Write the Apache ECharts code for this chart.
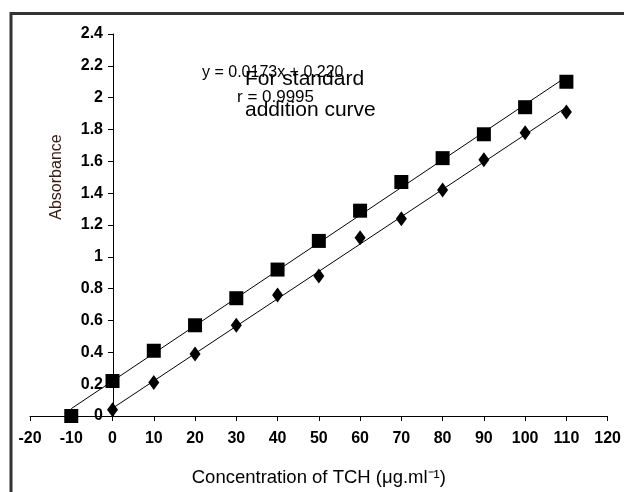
<!DOCTYPE html>
<html><head><meta charset="utf-8">
<script src="https://cdn.jsdelivr.net/npm/echarts@6/dist/echarts.min.js"></script>
<style>html,body{margin:0;padding:0;background:#fff}#c{width:624px;height:492px}</style>
</head><body><div id="c"></div>
<script>
const concSquare = [-10, 0, 10, 20, 30, 40, 50, 60, 70, 80, 90, 100, 110];
const absSquare = [0.0, 0.22, 0.41, 0.57, 0.74, 0.92, 1.10, 1.29, 1.47, 1.62, 1.77, 1.94, 2.10];
const concDiamond = [0, 10, 20, 30, 40, 50, 60, 70, 80, 90, 100, 110];
const absDiamond = [0.04, 0.21, 0.39, 0.57, 0.76, 0.88, 1.12, 1.24, 1.42, 1.61, 1.78, 1.91];
const xTicks = [-20, -10, 0, 10, 20, 30, 40, 50, 60, 70, 80, 90, 100, 110, 120];
const yTicks = [0, 0.2, 0.4, 0.6, 0.8, 1, 1.2, 1.4, 1.6, 1.8, 2, 2.2, 2.4];

function fit(xs, ys) {
  const n = xs.length;
  const mx = xs.reduce((a, b) => a + b, 0) / n;
  const my = ys.reduce((a, b) => a + b, 0) / n;
  let sxy = 0, sxx = 0;
  for (let i = 0; i < n; i++) { sxy += (xs[i] - mx) * (ys[i] - my); sxx += (xs[i] - mx) ** 2; }
  const m = sxy / sxx, b = my - m * mx;
  const x0 = Math.min(...xs), x1 = Math.max(...xs);
  return [[x0, m * x0 + b], [x1, m * x1 + b]];
}
const pair = (xs, ys) => xs.map((x, i) => [x, ys[i]]);

const gridLeft = 30, gridRight = 12;
const plotW = 624 - gridLeft - gridRight;
const xMin = xTicks[0], xMax = xTicks[xTicks.length - 1];
// shift the y axis so it sits at x = 0, as in the reference
const yAxisOffset = -Math.round((0 - xMin) / (xMax - xMin) * plotW);

const F = '"Liberation Sans", Arial, sans-serif';
const chart = echarts.init(document.getElementById('c'), null, {renderer: 'canvas'});
chart.setOption({
  animation: false,
  backgroundColor: '#fff',
  grid: {left: gridLeft, right: gridRight, top: 34, bottom: 75},
  xAxis: {
    type: 'value', min: xMin, max: xMax, interval: 10,
    axisLine: {lineStyle: {color: '#000', width: 1}},
    axisTick: {show: true, inside: false, length: 5, lineStyle: {color: '#000'}},
    axisLabel: {color: '#000', fontFamily: F, fontWeight: 'bold', fontSize: 16, margin: 15},
    splitLine: {show: false},
    name: 'Concentration of TCH (\u03bcg.ml\u207b\u00b9)', nameLocation: 'middle', nameGap: 52,
    nameTextStyle: {color: '#000', fontFamily: F, fontSize: 18.5}
  },
  yAxis: {
    type: 'value', min: yTicks[0], max: yTicks[yTicks.length - 1], interval: 0.2,
    offset: yAxisOffset,
    axisLine: {show: true, onZero: false, lineStyle: {color: '#000', width: 1}},
    axisTick: {show: true, inside: false, length: 5, lineStyle: {color: '#000'}},
    axisLabel: {color: '#000', fontFamily: F, fontWeight: 'bold', fontSize: 16, margin: 10,
      formatter: v => String(Math.round(v * 10) / 10)},
    splitLine: {show: false}
  },
  graphic: [
    {type: 'rect', shape: {x: 11, y: 13.5, width: 640, height: 500}, style: {fill: 'none', stroke: '#333', lineWidth: 3}, silent: true},
    {type: 'text', x: 57, y: 177, rotation: Math.PI / 2,
      style: {text: 'Absorbance', font: '16px ' + F, fill: '#3a1a10', align: 'center', verticalAlign: 'middle'}},
    {type: 'text', x: 202, y: 72.5, style: {text: 'y = 0.0173x + 0.220', font: '16px ' + F, fill: '#000', verticalAlign: 'middle'}},
    {type: 'text', x: 245, y: 79.5, style: {text: 'For standard', font: '21px ' + F, fill: '#000', verticalAlign: 'middle'}},
    {type: 'text', x: 237, y: 97, style: {text: 'r = 0.9995', font: '17px ' + F, fill: '#000', verticalAlign: 'middle'}},
    {type: 'text', x: 245, y: 110.5, style: {text: 'addition curve', font: '21px ' + F, fill: '#000', verticalAlign: 'middle'}}
  ],
  series: [
    {type: 'line', data: fit(concSquare, absSquare), symbol: 'none', lineStyle: {color: '#000', width: 1}, z: 1},
    {type: 'line', data: fit(concDiamond, absDiamond), symbol: 'none', lineStyle: {color: '#000', width: 1}, z: 1},
    {type: 'scatter', data: pair(concSquare, absSquare), symbol: 'rect', symbolSize: 14, itemStyle: {color: '#000', opacity: 1}, z: 3},
    {type: 'scatter', data: pair(concDiamond, absDiamond), symbol: 'diamond', symbolSize: [11, 15], itemStyle: {color: '#000', opacity: 1}, z: 3}
  ]
});
</script></body></html>
